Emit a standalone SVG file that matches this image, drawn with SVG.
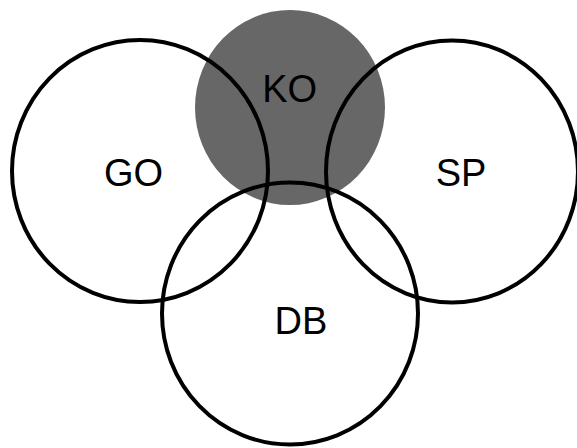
<svg xmlns="http://www.w3.org/2000/svg" width="577" height="448" viewBox="0 0 577 448">
  <style>
    .ring { fill: none; stroke: #000; stroke-width: 4; }
    .filled { fill: #676767; stroke: none; }
    .label { font-family: "Liberation Sans", Arial, sans-serif; font-size: 38px; fill: #000; text-anchor: middle; }
  </style>
  <rect width="577" height="448" fill="#fff"/>
  <g id="KO-shape">
    <ellipse class="filled" cx="290" cy="107.5" rx="95" ry="97.5"/>
  </g>
  <g id="GO">
    <ellipse class="ring" cx="140" cy="171" rx="128" ry="131"/>
    <text class="label" x="133.5" y="186">GO</text>
  </g>
  <g id="SP">
    <ellipse class="ring" cx="452" cy="171.5" rx="126" ry="131"/>
    <text class="label" x="461" y="186">SP</text>
  </g>
  <g id="DB">
    <ellipse class="ring" cx="290" cy="313.5" rx="128" ry="131"/>
    <text class="label" x="301" y="334">DB</text>
  </g>
  <g id="KO">
    <text class="label" x="289.7" y="101.5">KO</text>
  </g>
  <g id="connectors"/>
</svg>
